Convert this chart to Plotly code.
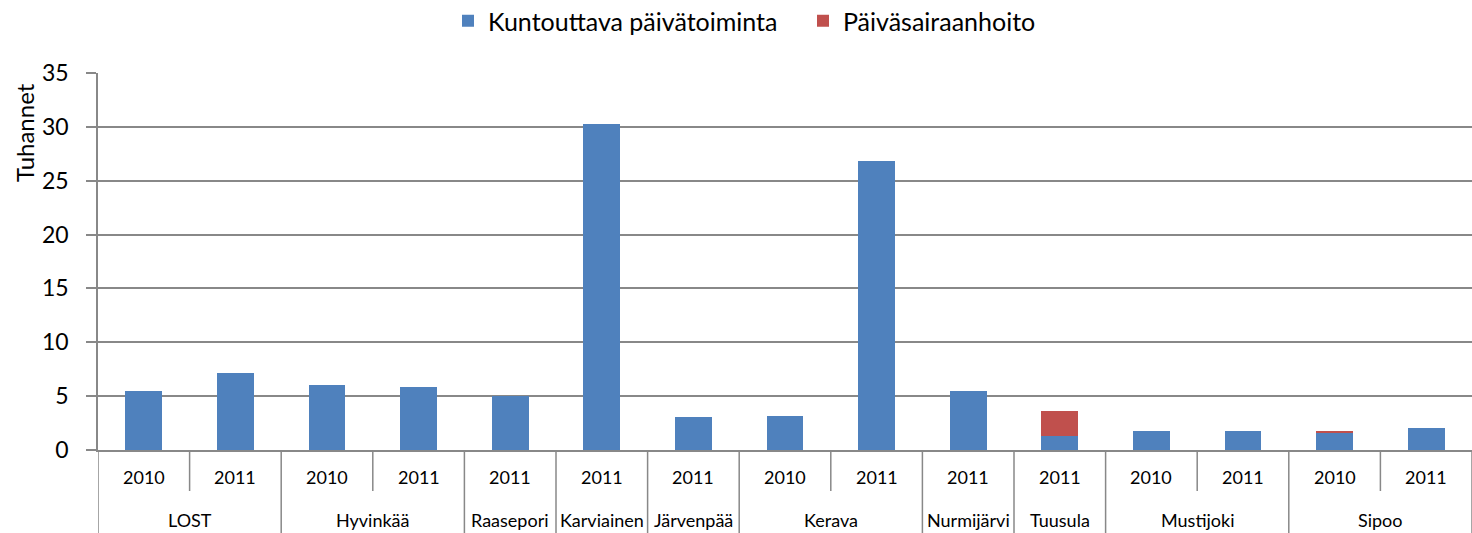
import plotly.graph_objects as go

municipalities = ["LOST", "LOST", "Hyvinkää", "Hyvinkää", "Raasepori", "Karviainen", "Järvenpää",
                  "Kerava", "Kerava", "Nurmijärvi", "Tuusula", "Mustijoki", "Mustijoki", "Sipoo", "Sipoo"]
years = ["2010", "2011", "2010", "2011", "2011", "2011", "2011",
         "2010", "2011", "2011", "2011", "2010", "2011", "2010", "2011"]
kuntouttava = [5.5, 7.15, 6.05, 5.88, 5.04, 30.3, 3.03, 3.16, 26.8, 5.45, 1.33, 1.76, 1.76, 1.58, 2.04]
paivasairaanhoito = [0, 0, 0, 0, 0, 0, 0, 0, 0, 0, 2.29, 0, 0, 0.18, 0]

y_ticks = [0, 5, 10, 15, 20, 25, 30, 35]

FONT = "Lato, 'Open Sans', sans-serif"
GRID = "#888888"

W, H = 1472, 533
ML, MT, PH = 98, 73, 377
MB = H - MT - PH
PW = W - ML

n = len(years)
pos = list(range(n))

fig = go.Figure()
fig.add_trace(go.Bar(x=pos, y=kuntouttava, name="Kuntouttava päivätoiminta",
                     marker=dict(color="#4F81BD", line=dict(width=0))))
fig.add_trace(go.Bar(x=pos, y=paivasairaanhoito, name="Päiväsairaanhoito",
                     marker=dict(color="#C0504D", line=dict(width=0))))

annotations = []
shapes = []
for i, yr in enumerate(years):
    annotations.append(dict(x=i, y=-27 / PH, xref="x", yref="paper", text=yr, showarrow=False,
                            xanchor="center", yanchor="middle", font=dict(size=18, family=FONT)))
groups = []
start = 0
for i in range(1, n + 1):
    if i == n or municipalities[i] != municipalities[start]:
        groups.append((municipalities[start], start, i - 1))
        start = i
for name, a, b in groups:
    annotations.append(dict(x=(a + b) / 2, y=-70 / PH, xref="x", yref="paper", text=name, showarrow=False,
                            xanchor="center", yanchor="middle", font=dict(size=18, family=FONT)))
for i in range(-1, n):
    xb = i + 0.5
    is_group = i == -1 or i == n - 1 or municipalities[i] != municipalities[i + 1]
    y1 = -MB / PH if is_group else -41 / PH
    shapes.append(dict(type="line", xref="x", yref="paper", x0=xb, x1=xb, y0=0, y1=y1,
                       line=dict(color=GRID, width=1.5)))

annotations.append(dict(x=(24 - ML) / PW, y=(450 - 133) / PH, xref="paper", yref="paper", text="Tuhannet",
                        textangle=-90, showarrow=False, xanchor="center", yanchor="middle",
                        font=dict(size=24, family=FONT)))

fig.update_layout(
    barmode="stack",
    bargap=0.6,
    width=W, height=H,
    paper_bgcolor="white", plot_bgcolor="white",
    margin=dict(l=ML, r=0, t=MT, b=MB, autoexpand=False),
    font=dict(family=FONT, color="black"),
    showlegend=True,
    legend=dict(orientation="h", x=(448 - ML) / PW, xanchor="left", y=(452) / PH, yanchor="top",
                font=dict(size=25), traceorder="normal", entrywidth=310, entrywidthmode="pixels"),
    xaxis=dict(range=[-0.5, n - 0.5], showticklabels=False, ticks="", showgrid=False,
               showline=True, linecolor=GRID, linewidth=1.5, zeroline=False, automargin=False),
    yaxis=dict(
        range=[0, 35], tickvals=y_ticks, ticktext=[str(v) for v in y_ticks],
        showgrid=True, gridcolor=GRID, gridwidth=1.5,
        showline=True, linecolor=GRID, linewidth=1.5,
        ticks="outside", ticklen=10, tickcolor=GRID, tickwidth=1.5, ticklabelstandoff=13,
        tickfont=dict(size=23), zeroline=False, automargin=False,
    ),
    annotations=annotations,
    shapes=shapes,
)

fig.write_html("out.html", post_script="document.body.style.margin='0';",
               config={"displayModeBar": False})
